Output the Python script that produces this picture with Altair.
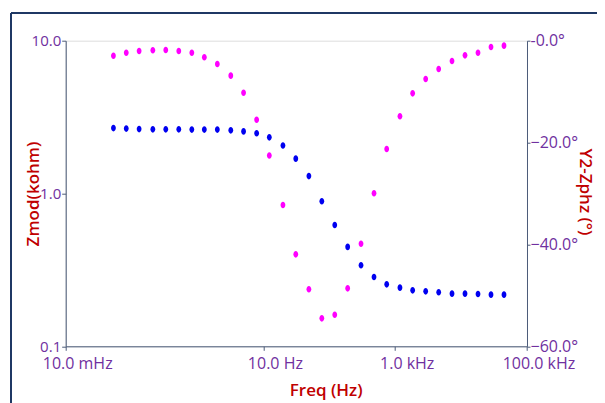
import altair as alt
import pandas as pd

freq = [0.053, 0.083, 0.13, 0.21, 0.33, 0.52, 0.82, 1.27, 2.0, 3.2,
        5.0, 7.9, 12.3, 19.8, 31, 49, 77, 121, 190, 303,
        477, 743, 1180, 1840, 2900, 4570, 7280, 11460, 18050, 28430, 44770]
# |Z| in kohm (blue)
zmod = [2.68, 2.66, 2.64, 2.63, 2.63, 2.63, 2.62, 2.62, 2.62, 2.59,
        2.55, 2.48, 2.33, 2.06, 1.69, 1.30, 0.889, 0.622, 0.447, 0.339,
        0.284, 0.2545, 0.242, 0.2325, 0.229, 0.2257, 0.221, 0.221, 0.220, 0.2177, 0.2177]
# Phase in degrees (magenta)
zphz = [-2.95, -2.36, -2.02, -1.88, -1.83, -2.02, -2.36, -3.26, -4.57, -6.87,
        -10.21, -15.51, -22.54, -32.26, -41.94, -48.81, -54.51, -53.80, -48.62, -39.86,
        -29.96, -21.26, -14.84, -10.33, -7.52, -5.56, -3.99, -2.87, -2.36, -1.24, -0.98]

x_ticks = [0.01, 10, 1000, 100000]
x_labels = ["10.0 mHz", "10.0 Hz", "1.0 kHz", "100.0 kHz"]
y_ticks = [0.1, 1, 10]
y2_ticks = [-60, -40, -20, 0]

df = pd.DataFrame({"freq": freq, "zmod": zmod, "zphz": zphz})
ticks_df = pd.DataFrame({"tick": x_ticks, "label": x_labels})

W = 461.3
H = 305.6
PURPLE = "#7030A0"
RED = "#C00000"
AXIS = "#4A5A78"
NAVY = "#1F3864"
FONT = "Open Sans"
TW = 600

ellipse = "M -0.72 0 A 0.72 1 0 1 1 0.72 0 A 0.72 1 0 1 1 -0.72 0 Z"

xscale = alt.Scale(type="log", domain=[0.01, 100000], nice=False)
xaxis = alt.Axis(
    values=x_ticks, title="Freq (Hz)", grid=False, labels=False,
    tickSize=4, tickColor=AXIS, domainColor=AXIS,
    titleColor=RED, titleFont=FONT, titleFontSize=17, titleFontWeight=TW,
    titleX=260, titleY=36, titleBaseline="top",
)

frame_top = alt.Chart(ticks_df).mark_rule(color=NAVY, strokeWidth=2, clip=False).encode(
    x=alt.value(-54.7), x2=alt.value(W + 120), y=alt.value(-27.7),
)
frame_left = alt.Chart(ticks_df).mark_rule(color=NAVY, strokeWidth=2, clip=False).encode(
    x=alt.value(-54.7), y=alt.value(-27.7), y2=alt.value(H + 120),
)

blue = alt.Chart(df).mark_point(shape=ellipse, filled=True, size=44, color="#0000F0", opacity=1).encode(
    x=alt.X("freq:Q", scale=xscale, axis=xaxis),
    y=alt.Y("zmod:Q", scale=alt.Scale(type="log", domain=[0.1, 10], nice=False),
            axis=alt.Axis(values=y_ticks, format=".1f", title="Zmod(kohm)", grid=False,
                          orient="left", labelColor=PURPLE, labelFont=FONT, labelFontSize=15,
                          labelPadding=1, tickSize=4, tickColor=AXIS, domainColor=AXIS,
                          labelOverlap=False,
                          titleColor=RED, titleFont=FONT, titleFontSize=17, titleFontWeight=TW,
                          titleX=-23, titleY=H / 2, titleAngle=-90, titleBaseline="bottom")),
)

mag = alt.Chart(df).mark_point(shape=ellipse, filled=True, size=44, color="#FF00FF", opacity=1).encode(
    x=alt.X("freq:Q", scale=xscale, axis=xaxis),
    y=alt.Y("zphz:Q", scale=alt.Scale(domain=[-60, 0], nice=False),
            axis=alt.Axis(values=y2_ticks, title="Y2-Zphz (°)", grid=False, orient="right",
                          labelExpr="datum.value == 0 ? '-0.0°' : format(datum.value, '.1f') + '°'",
                          labelColor=PURPLE, labelFont=FONT, labelFontSize=16,
                          labelPadding=0, tickSize=3, tickColor=AXIS, domainColor=AXIS,
                          labelOverlap=False,
                          titleColor=RED, titleFont=FONT, titleFontSize=17, titleFontWeight=TW,
                          titleX=49, titleY=H / 2 - 2, titleAngle=90, titleBaseline="bottom")),
)

xlabels = alt.Chart(ticks_df).mark_text(
    color=PURPLE, font=FONT, fontSize=16, align="center", baseline="alphabetic",
    dx=12, clip=False,
).encode(
    x=alt.X("tick:Q", scale=xscale),
    y=alt.value(H + 23),
    text="label:N",
)

chart = alt.layer(frame_top, frame_left, blue, mag, xlabels).resolve_scale(y="independent").properties(
    width=W, height=H,
    autosize=alt.AutoSizeParams(type="none"),
    padding={"left": 57.7, "top": 32.7, "right": 70, "bottom": 58},
).configure_view(stroke=AXIS, strokeWidth=1.5).configure(background="white")

chart.save("out.html", embed_options={"renderer": "svg", "actions": False})
